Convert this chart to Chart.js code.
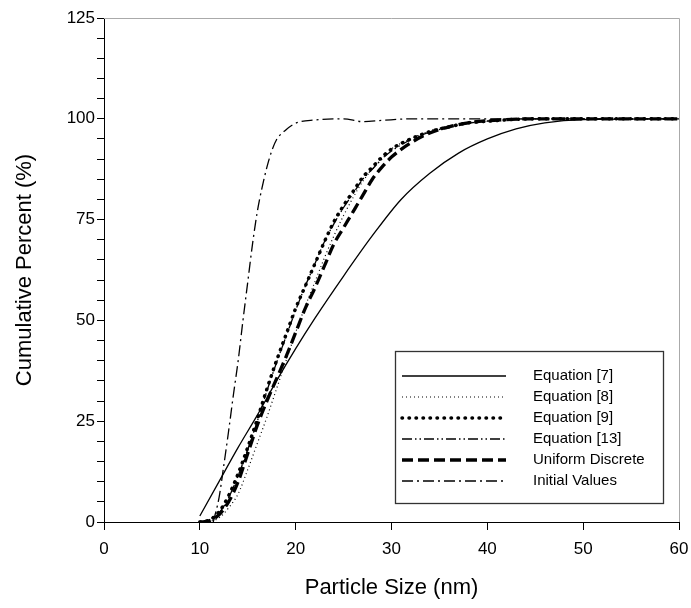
<!DOCTYPE html>
<html>
<head>
<meta charset="utf-8">
<script src="https://cdn.jsdelivr.net/npm/chart.js@4/dist/chart.umd.min.js"></script>
<style>
  body { margin: 0; background: #fff; }
</style>
</head>
<body>
<canvas id="chart" width="691" height="608"></canvas>
<script>
// particle sizes (nm) shared by the fitted curves
const sizes = [10, 11, 12, 13, 14, 15, 16, 17, 18, 19, 20, 21, 22, 23, 24, 25, 26, 27, 28, 29, 30, 32, 34, 36, 38, 40, 45, 60];

const eq8 = [0, 0.2, 1, 3.5, 7, 13, 19.5, 26, 33, 40, 47, 53.5, 59.5, 65.5, 71, 76, 80.5, 84.5, 87.5, 90, 92.5, 95, 97, 98.2, 99, 99.5, 100, 100];
const eq9 = [0, 0.5, 2.5, 6.5, 12, 18.5, 25.5, 33, 40, 46.5, 53, 58.5, 64, 69.5, 74.5, 78.5, 82, 85.5, 88, 90.5, 92.5, 95, 96.8, 98, 99, 99.4, 100, 100];
const eq13 = [0, 0.4, 2.2, 6, 11.5, 18, 25, 32.5, 39.5, 46, 52.5, 58.5, 64, 69.5, 74, 78, 81.5, 85, 87.5, 90, 92, 94.8, 96.7, 97.9, 98.9, 99.4, 100, 100];
const uniformDiscrete = [0, 0.3, 1.8, 5, 10, 17, 24, 30, 35.5, 41, 47, 53, 58, 63.5, 69, 73, 77, 81, 85, 88, 90.5, 94, 96.5, 98, 99, 99.5, 100, 100];

// equation [7] has its own sampling
const eq7Sizes = [10, 12, 14, 16, 18, 20, 22, 25, 28, 31, 34, 37, 40, 43, 46, 50, 60];
const eq7 = [1.5, 10, 18.5, 26.5, 35, 43, 50.5, 61, 71, 80, 86.5, 91.5, 95, 97.5, 99, 99.8, 100];

// initial values
const initSizes = [11.4, 12, 12.5, 13, 13.5, 14, 14.5, 15, 15.5, 16, 16.5, 17, 17.5, 18, 19, 20, 22, 25, 27, 29, 32, 60];
const initValues = [0, 6, 14, 22.5, 31.5, 40, 50, 59.5, 69, 77, 83, 88, 92, 94.8, 97.3, 98.9, 99.7, 100, 99.3, 99.6, 100, 100];

const xTicks = [0, 10, 20, 30, 40, 50, 60];
const yTicks = [0, 25, 50, 75, 100, 125];

const pts = (xs, ys) => xs.map((x, i) => ({ x: x, y: ys[i] }));

const FONT = 'Liberation Sans, Arial, sans-serif';

function series(label, data, width, dash, cap) {
  return {
    label: label,
    data: data,
    borderColor: '#000',
    backgroundColor: '#000',
    borderWidth: width,
    borderDash: dash,
    borderCapStyle: cap || 'butt',
    pointRadius: 0,
    fill: false,
    tension: 0.4,
    cubicInterpolationMode: 'monotone'
  };
}

const datasets = [
  series('Equation [7]', pts(eq7Sizes, eq7), 1.3, []),
  series('Equation [8]', pts(sizes, eq8), 1.2, [1, 3]),
  series('Equation [9]', pts(sizes, eq9), 3.5, [0.5, 6.5], 'round'),
  series('Equation [13]', pts(sizes, eq13), 1.3, [10, 3, 1.5, 3, 1.5, 3]),
  series('Uniform Discrete', pts(sizes, uniformDiscrete), 3.3, [11, 5]),
  series('Initial Values', pts(initSizes, initValues), 1.3, [11, 4, 2, 4])
];

// faint frame + the boxed legend inside the plot
const extras = {
  id: 'extras',
  afterDraw(chart) {
    const ctx = chart.ctx;
    const a = chart.chartArea;
    ctx.save();
    ctx.strokeStyle = '#aaa';
    ctx.lineWidth = 1;
    ctx.beginPath();
    ctx.moveTo(a.left, a.top + 0.5);
    ctx.lineTo(a.right + 0.5, a.top + 0.5);
    ctx.lineTo(a.right + 0.5, a.bottom);
    ctx.stroke();

    const bx = 395.5, by = 351.5, bw = 268, bh = 152;
    ctx.fillStyle = '#fff';
    ctx.fillRect(bx, by, bw, bh);
    ctx.strokeStyle = '#333';
    ctx.lineWidth = 1.3;
    ctx.strokeRect(bx, by, bw, bh);

    ctx.font = '15px ' + FONT;
    ctx.textBaseline = 'middle';
    ctx.textAlign = 'left';
    chart.data.datasets.forEach((ds, i) => {
      const y = 376 + i * 21;
      ctx.strokeStyle = '#000';
      ctx.lineWidth = ds.borderWidth;
      ctx.setLineDash(ds.borderDash);
      ctx.lineCap = ds.borderCapStyle;
      ctx.beginPath();
      ctx.moveTo(402, y);
      ctx.lineTo(506, y);
      ctx.stroke();
      ctx.setLineDash([]);
      ctx.fillStyle = '#000';
      ctx.fillText(ds.label, 533, y);
    });
    ctx.restore();
  }
};

new Chart(document.getElementById('chart'), {
  type: 'line',
  data: { datasets: datasets },
  options: {
    responsive: false,
    animation: false,
    layout: { padding: { top: 18, right: 12, left: 0, bottom: 0 } },
    plugins: { legend: { display: false }, tooltip: { enabled: false } },
    scales: {
      x: {
        type: 'linear',
        min: 0,
        max: 60,
        afterBuildTicks: s => { s.ticks = xTicks.map(v => ({ value: v })); },
        afterFit: s => { s.height = 86; s.paddingLeft = 0; s.paddingRight = 0; },
        ticks: { color: '#000', font: { size: 17, family: FONT }, padding: 9 },
        grid: { drawOnChartArea: false, drawTicks: true, tickLength: 8, color: '#000' },
        border: { color: '#000', width: 1 },
        title: { display: true, text: 'Particle Size (nm)', color: '#000', font: { size: 22, family: FONT }, padding: { top: 0, bottom: 7 } }
      },
      y: {
        type: 'linear',
        min: 0,
        max: 125,
        afterFit: s => { s.width = 104; s.paddingTop = 0; s.paddingBottom = 0; },
        ticks: {
          stepSize: 5,
          autoSkip: false,
          color: '#000',
          font: { size: 17, family: FONT },
          padding: 2,
          callback: v => (yTicks.includes(v) ? v : '')
        },
        grid: { drawOnChartArea: false, drawTicks: true, tickLength: 7, color: '#000' },
        border: { color: '#000', width: 1 },
        title: { display: true, text: 'Cumulative Percent (%)', color: '#000', font: { size: 22, family: FONT }, padding: { top: 12, bottom: 0 } }
      }
    }
  },
  plugins: [extras]
});
</script>
</body>
</html>
